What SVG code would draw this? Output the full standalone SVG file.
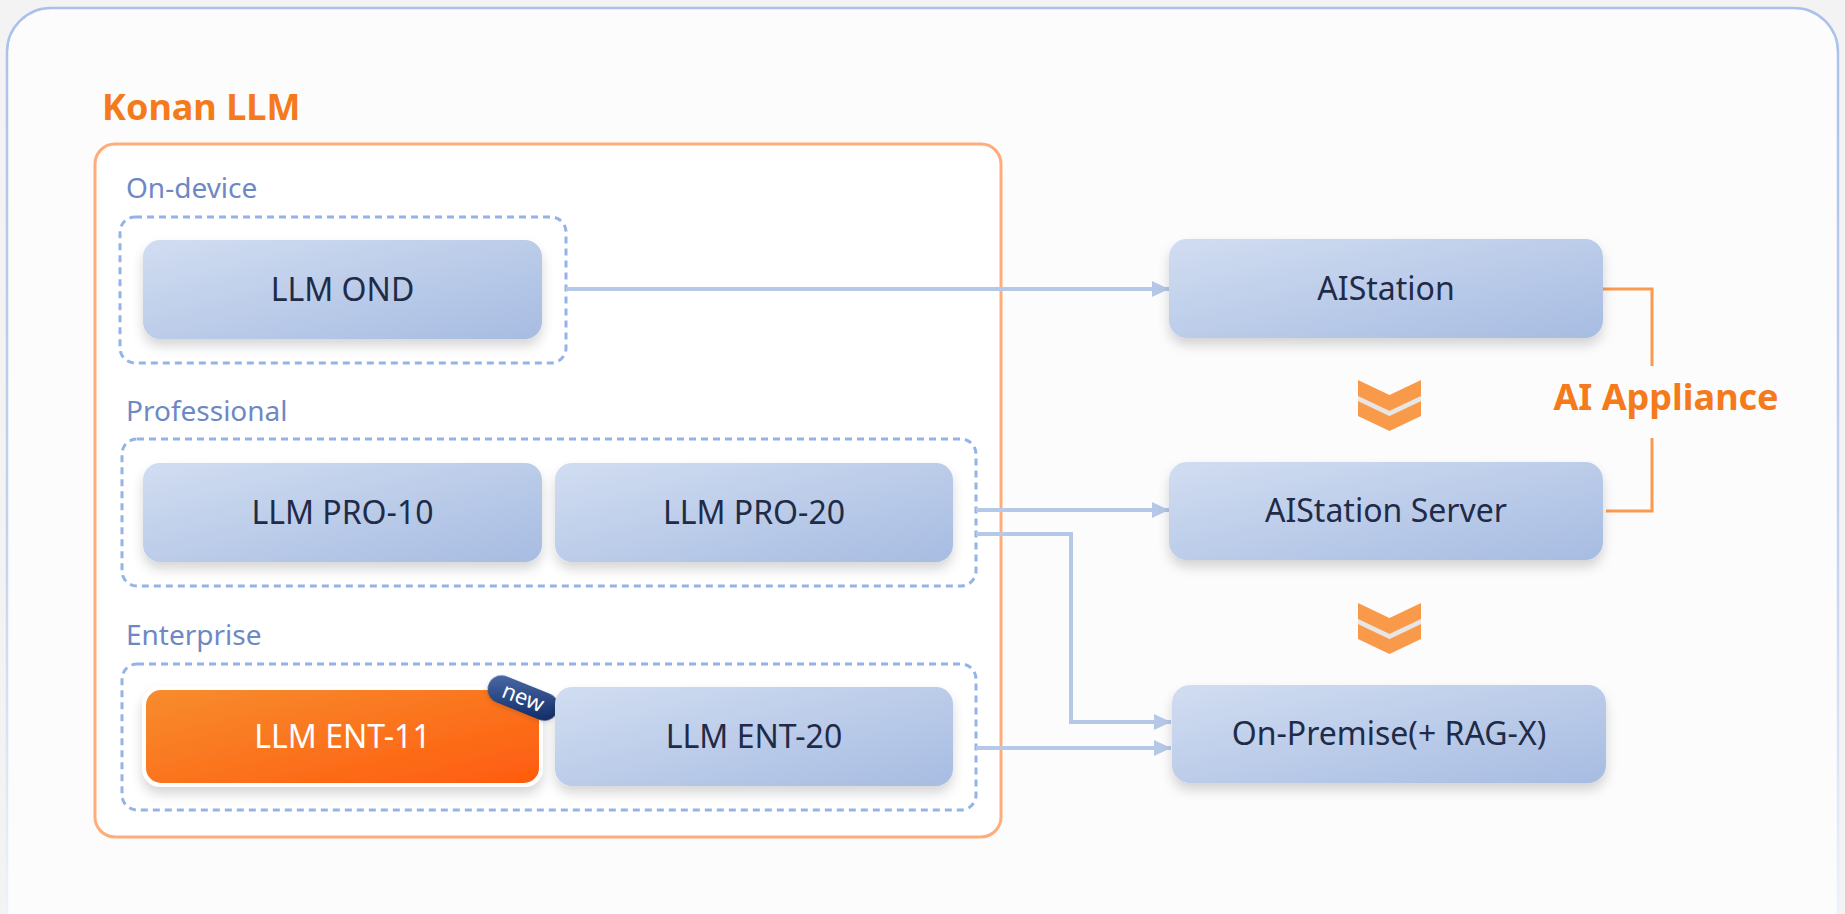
<svg xmlns="http://www.w3.org/2000/svg" width="1845" height="914" viewBox="0 0 1845 914">
<defs>
<linearGradient id="nodeGrad" x1="0" y1="0" x2="1" y2="1">
<stop offset="0" stop-color="#d1ddf1"/>
<stop offset="1" stop-color="#a7bce2"/>
</linearGradient>
<linearGradient id="entGrad" x1="0" y1="0" x2="1" y2="1">
<stop offset="0" stop-color="#f78d2e"/>
<stop offset="1" stop-color="#ff5b0e"/>
</linearGradient>
<linearGradient id="badgeGrad" x1="0" y1="0" x2="1" y2="1">
<stop offset="0" stop-color="#4d6eab"/>
<stop offset="1" stop-color="#0d275f"/>
</linearGradient>
<linearGradient id="frameGrad" gradientUnits="userSpaceOnUse" x1="0" y1="0" x2="0" y2="914">
<stop offset="0" stop-color="#a9c1ea"/>
<stop offset="0.6" stop-color="#c3d3f0"/>
<stop offset="1" stop-color="#eef2fa"/>
</linearGradient>
<filter id="shadow" x="-20%" y="-30%" width="140%" height="170%">
<feDropShadow dx="0" dy="7" stdDeviation="6" flood-color="#000" flood-opacity="0.16"/>
</filter>
<filter id="softShadow" x="-20%" y="-30%" width="140%" height="170%">
<feDropShadow dx="0" dy="2" stdDeviation="2" flood-color="#000" flood-opacity="0.12"/>
</filter>
<marker id="arrow" viewBox="0 0 17 17" refX="17" refY="8.5" markerWidth="17" markerHeight="17" markerUnits="userSpaceOnUse" orient="auto">
<path d="M0,0.5 L17,8.5 L0,16.5 Z" fill="#b5c8e8"/>
</marker>
<style>
.node{fill:url(#nodeGrad);filter:url(#shadow);}
.ntext{font-family:"Noto Sans","Liberation Sans",sans-serif;font-size:32px;fill:#1f2b47;text-anchor:middle;}
.group{fill:#ffffff;stroke:#94b3e9;stroke-width:3;stroke-dasharray:7 5;}
.glabel{font-family:"Noto Sans","Liberation Sans",sans-serif;font-size:28px;fill:#6d88c4;}
.title{font-family:"Noto Sans","Liberation Sans",sans-serif;font-size:36px;font-weight:bold;fill:#f57a1c;}
.conn{fill:none;stroke:#b5c8e8;stroke-width:4;}
.chev{fill:#f99a4b;}
.chevgap{fill:#e6e6e6;}
.bracket{fill:none;stroke:#fb9a4e;stroke-width:3;}
</style>
</defs>

<rect x="0" y="0" width="1845" height="914" fill="#f3f3f3"/>
<rect x="7" y="8" width="1831" height="1000" rx="44" fill="#fcfcfc" stroke="url(#frameGrad)" stroke-width="2.5"/>

<text class="title" x="102" y="120">Konan LLM</text>
<rect x="95" y="144" width="906" height="693" rx="20" fill="#ffffff" stroke="#ffab7a" stroke-width="3"/>

<g id="group-ondevice">
<text class="glabel" x="126" y="198">On-device</text>
<rect class="group" x="120" y="217" width="446" height="146" rx="15"/>
</g>
<g id="group-professional">
<text class="glabel" x="126" y="421">Professional</text>
<rect class="group" x="122" y="439" width="854" height="147" rx="15"/>
</g>
<g id="group-enterprise">
<text class="glabel" x="126" y="645">Enterprise</text>
<rect class="group" x="122" y="664" width="854" height="146" rx="15"/>
</g>

<g id="connectors">
<path class="conn" d="M566,289 H1169" marker-end="url(#arrow)"/>
<path class="conn" d="M976,510 H1169" marker-end="url(#arrow)"/>
<path class="conn" d="M976,534 H1071 V722 H1171" marker-end="url(#arrow)"/>
<path class="conn" d="M976,748 H1171" marker-end="url(#arrow)"/>
<path class="bracket" d="M1603,289 H1652 V366"/>
<path class="bracket" d="M1652,438 V511 H1606"/>
</g>

<g id="node-llm-ond">
<rect class="node" x="143" y="240" width="399" height="99" rx="17"/>
<text class="ntext" x="342.5" y="301">LLM OND</text>
</g>
<g id="node-llm-pro-10">
<rect class="node" x="143" y="463" width="399" height="99" rx="17"/>
<text class="ntext" x="342.5" y="524">LLM PRO-10</text>
</g>
<g id="node-llm-pro-20">
<rect class="node" x="555" y="463" width="398" height="99" rx="17"/>
<text class="ntext" x="754" y="524">LLM PRO-20</text>
</g>
<g id="node-llm-ent-11">
<rect x="144" y="688" width="397" height="97" rx="17" fill="url(#entGrad)" stroke="#ffffff" stroke-width="4" filter="url(#shadow)"/>
<text class="ntext" x="342.5" y="748" style="fill:#ffffff">LLM ENT-11</text>
<g transform="translate(523,698) rotate(22)">
<rect x="-37" y="-14" width="74" height="28" rx="14" fill="url(#badgeGrad)" filter="url(#softShadow)"/>
<text x="0" y="7" font-family="Noto Sans, Liberation Sans, sans-serif" font-size="22" fill="#ffffff" text-anchor="middle">new</text>
</g>
</g>
<g id="node-llm-ent-20">
<rect class="node" x="555" y="687" width="398" height="99" rx="17"/>
<text class="ntext" x="754" y="748">LLM ENT-20</text>
</g>

<g id="node-aistation">
<rect class="node" x="1169" y="239" width="434" height="99" rx="18"/>
<text class="ntext" x="1386" y="300">AIStation</text>
</g>
<g id="node-aistation-server">
<rect class="node" x="1169" y="462" width="434" height="98" rx="18"/>
<text class="ntext" x="1386" y="522">AIStation Server</text>
</g>
<g id="node-on-premise">
<rect class="node" x="1172" y="685" width="434" height="98" rx="18"/>
<text class="ntext" x="1389" y="745">On-Premise(+ RAG-X)</text>
</g>

<g id="chevron-1">
<polygon class="chevgap" points="1358,396 1389.5,411 1421,396 1421,401 1389.5,416 1358,401"/>
<polygon class="chev" points="1358,380 1389.5,395 1421,380 1421,396 1389.5,411 1358,396"/>
<polygon class="chev" points="1358,401 1389.5,416 1421,401 1421,416 1389.5,431 1358,416"/>
</g>
<g id="chevron-2" transform="translate(0,223)">
<polygon class="chevgap" points="1358,396 1389.5,411 1421,396 1421,401 1389.5,416 1358,401"/>
<polygon class="chev" points="1358,380 1389.5,395 1421,380 1421,396 1389.5,411 1358,396"/>
<polygon class="chev" points="1358,401 1389.5,416 1421,401 1421,416 1389.5,431 1358,416"/>
</g>

<g id="label-ai-appliance">
<text class="title" x="1666" y="410" text-anchor="middle">AI Appliance</text>
</g>
</svg>
